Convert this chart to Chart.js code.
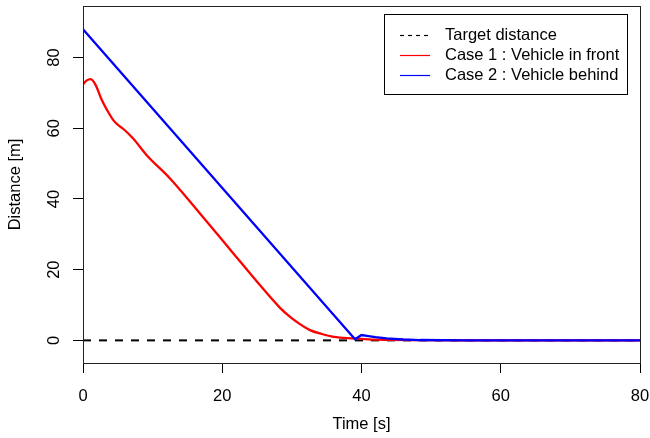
<!DOCTYPE html>
<html>
<head>
<meta charset="utf-8">
<script src="https://cdn.jsdelivr.net/npm/chart.js@4/dist/chart.umd.min.js"></script>
<style>
  html, body { margin: 0; padding: 0; background: #fff; }
  #wrap { width: 650px; height: 438px; }
</style>
</head>
<body>
<div id="wrap"><canvas id="distance-chart"></canvas></div>
<script>
// time axis [s] and distances [m]
const targetTime = [0, 80];
const targetDist = [0, 0];

const frontTime = [0, 0.5, 1.1, 1.8, 2.7, 3.5, 4.35, 5.0, 5.8, 7.2, 9.15, 12.5, 16.8, 21.6, 25, 28.3, 29.7, 31, 32.6, 34.3, 36, 38.8, 41, 44, 48, 55, 80];
const frontDist = [72.4, 73.5, 73.9, 72.3, 68, 65, 62.3, 61, 59.8, 57.1, 52.4, 45.8, 35.9, 24.6, 16.6, 9.2, 6.7, 4.8, 2.9, 1.8, 1.0, 0.55, 0.3, 0.15, 0.05, 0, 0];

const behindTime = [0, 39.07, 40, 41, 42, 43.6, 46, 48.4, 55, 80];
const behindDist = [88, 0.3, 1.5, 1.2, 0.9, 0.56, 0.25, 0.1, 0, 0];

const xTicks = [0, 20, 40, 60, 80];
const yTicks = [0, 20, 40, 60, 80];

const toPoints = (xs, ys) => xs.map((x, i) => ({ x: x, y: ys[i] }));

const FONT = 'Liberation Sans, Arial, Helvetica, sans-serif';
const FSIZE = 16.5;

// R style box around the plot region
const boxPlugin = {
    id: 'box',
    afterDraw(chart) {
        const a = chart.chartArea;
        const ctx = chart.ctx;
        ctx.save();
        ctx.strokeStyle = '#222';
        ctx.lineWidth = 1;
        ctx.strokeRect(Math.round(a.left) + 0.5, Math.round(a.top) + 0.5,
            Math.round(a.right - a.left), Math.round(a.bottom - a.top));
        ctx.restore();
    }
};

// legend box in the top right corner, as in base R legend()
const legendPlugin = {
    id: 'rlegend',
    afterDraw(chart) {
        const ctx = chart.ctx;
        const x0 = 384, y0 = 14, w = 243, h = 80;
        ctx.save();
        ctx.fillStyle = '#fff';
        ctx.fillRect(x0, y0, w, h);
        ctx.strokeStyle = '#000';
        ctx.lineWidth = 1;
        ctx.strokeRect(x0 + 0.5, y0 + 0.5, w, h);
        ctx.font = FSIZE + 'px ' + FONT;
        ctx.textBaseline = 'middle';
        ctx.textAlign = 'left';
        chart.data.datasets.forEach((ds, i) => {
            const y = 35 + i * 20;
            ctx.setLineDash(ds.borderDash ? [4, 4] : []);
            ctx.strokeStyle = ds.borderColor;
            ctx.lineWidth = 1.2;
            ctx.beginPath();
            ctx.moveTo(400, y + 0.5);
            ctx.lineTo(430, y + 0.5);
            ctx.stroke();
            ctx.setLineDash([]);
            ctx.fillStyle = '#000';
            ctx.fillText(ds.label, 445, y);
        });
        ctx.restore();
    }
};

new Chart(document.getElementById('distance-chart'), {
    type: 'line',
    data: {
        datasets: [{
            label: 'Target distance',
            data: toPoints(targetTime, targetDist),
            borderColor: '#000000',
            borderWidth: 2,
            borderDash: [8, 8],
            pointRadius: 0,
            order: 3
        }, {
            label: 'Case 1 : Vehicle in front',
            data: toPoints(frontTime, frontDist),
            borderColor: '#ff0000',
            borderWidth: 2.3,
            pointRadius: 0,
            cubicInterpolationMode: 'monotone',
            order: 2
        }, {
            label: 'Case 2 : Vehicle behind',
            data: toPoints(behindTime, behindDist),
            borderColor: '#0000ff',
            borderWidth: 2.3,
            pointRadius: 0,
            tension: 0,
            order: 1
        }]
    },
    options: {
        responsive: true,
        maintainAspectRatio: false,
        animation: false,
        layout: { padding: { top: 6, right: 10, left: 0, bottom: 0 } },
        plugins: {
            legend: { display: false },
            tooltip: { enabled: false }
        },
        scales: {
            x: {
                type: 'linear',
                min: 0,
                max: 80,
                afterBuildTicks: (s) => { s.ticks = xTicks.map(v => ({ value: v })); },
                afterFit: (s) => { s.height = 75; s.paddingLeft = 0; s.paddingRight = 0; },
                grid: { drawOnChartArea: false, drawTicks: true, tickLength: 10, tickColor: '#000' },
                border: { display: false },
                ticks: { color: '#000', font: { family: FONT, size: FSIZE }, padding: 14, maxRotation: 0 },
                title: { display: true, text: 'Time [s]', color: '#000', font: { family: FONT, size: FSIZE }, padding: { top: 0, bottom: 4 } }
            },
            y: {
                type: 'linear',
                min: -6.4,
                max: 94.6,
                afterBuildTicks: (s) => { s.ticks = yTicks.map(v => ({ value: v })); },
                afterFit: (s) => { s.width = 83; s.paddingTop = 0; s.paddingBottom = 0; },
                grid: { drawOnChartArea: false, drawTicks: true, tickLength: 10, tickColor: '#000' },
                border: { display: false },
                ticks: { color: '#000', font: { family: FONT, size: FSIZE }, padding: 9, minRotation: 90, maxRotation: 90, crossAlign: 'center' },
                title: { display: true, text: 'Distance [m]', color: '#000', font: { family: FONT, size: FSIZE }, padding: { top: 6, bottom: 0 } }
            }
        }
    },
    plugins: [boxPlugin, legendPlugin]
});
</script>
</body>
</html>
